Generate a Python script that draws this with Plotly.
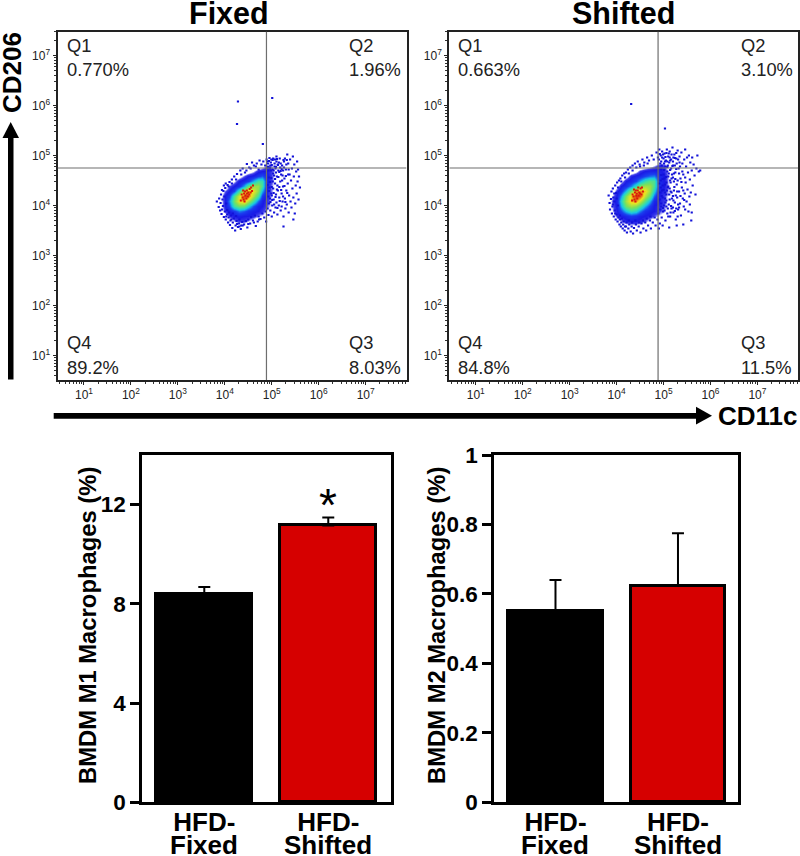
import math
import plotly.graph_objects as go

FONT = "Liberation Sans"
W, H = 800, 856

# ---------- flow cytometry panels (values are log10 of intensity) ----------
decades = [1, 2, 3, 4, 5, 6, 7]
decade_labels = [f"10<sup>{d}</sup>" for d in decades]
panel_titles = ["Fixed", "Shifted"]
quadrant_names = ["Q1", "Q2", "Q4", "Q3"]
fixed_percents = ["0.770%", "1.96%", "89.2%", "8.03%"]
shifted_percents = ["0.663%", "3.10%", "84.8%", "11.5%"]
fixed_gate = (4.887, 4.75)
shifted_gate = (4.883, 4.75)

density_x = [3.8, 3.9, 4.0, 4.1, 4.2, 4.3, 4.4, 4.5, 4.6, 4.7, 4.8, 4.9, 5.0, 5.1, 5.2]
density_y = [3.6, 3.7, 3.8, 3.9, 4.0, 4.1, 4.2, 4.3, 4.4, 4.5, 4.6, 4.7, 4.8, 4.9]
fixed_density = [
    [0, 0, 0, 0, .1, .2, .2, .1, 0, 0, 0, 0, 0, 0, 0],
    [0, 0, 0, .2, .6, .8, .8, .6, .3, .1, 0, 0, 0, 0, 0],
    [0, 0, .3, .8, 1, 1.1, 1, 1, .9, .6, .5, .3, .1, 0, 0],
    [0, .1, .8, 1.1, 1.4, 1.8, 1.6, 1.3, 1.1, 1, .8, .5, .3, 0, 0],
    [0, .3, 1, 1.5, 2.6, 3, 2.9, 2.3, 1.6, 1.1, 1, .7, .4, .1, 0],
    [0, .3, 1, 1.8, 3, 4, 4.3, 3.5, 2.6, 1.7, 1.1, .8, .5, .1, 0],
    [0, .3, 1, 1.4, 2.7, 3.8, 4.8, 4.7, 3.5, 2.6, 1.4, .9, .5, .2, 0],
    [0, .1, .7, 1, 1.5, 2.6, 3.6, 4.3, 4, 3.2, 2, 1, .6, .2, 0],
    [0, 0, .1, .7, 1, 1.3, 2, 2.9, 3.3, 3.3, 2.6, 1, .6, .3, 0],
    [0, 0, 0, .1, .5, 1, 1.2, 1.4, 2, 2.6, 2.5, 1.1, .7, .3, 0],
    [0, 0, 0, 0, 0, .3, .7, 1, 1.1, 1.4, 1.6, 1.1, .7, .3, 0],
    [0, 0, 0, 0, 0, 0, 0, .2, .5, .9, 1, 1, .7, .3, 0],
    [0, 0, 0, 0, 0, 0, 0, 0, 0, 0, .3, .8, .6, .1, 0],
    [0, 0, 0, 0, 0, 0, 0, 0, 0, 0, 0, 0, 0, 0, 0],
]
shifted_density = [
    [0, 0, 0, .1, .3, .4, .4, .3, .1, 0, 0, 0, 0, 0, 0],
    [0, 0, .2, .6, .9, 1, 1, .9, .7, .4, .2, 0, 0, 0, 0],
    [0, .2, .8, 1, 1.2, 1.4, 1.3, 1.1, 1, .9, .7, .5, .3, .1, 0],
    [0, .5, 1, 1.5, 2.1, 2.5, 2.3, 1.8, 1.3, 1.1, 1, .8, .6, .3, 0],
    [0, .6, 1.1, 2, 3, 3.4, 3.2, 2.7, 2, 1.4, 1, .9, .7, .4, .1],
    [0, .7, 1.2, 2.3, 3.4, 4.2, 4.4, 3.7, 2.8, 2, 1.2, 1, .8, .4, .2],
    [0, .5, 1.1, 1.9, 3.1, 4.1, 4.9, 4.8, 3.6, 2.8, 1.7, 1, .8, .5, .2],
    [0, .2, .9, 1.3, 2.1, 3.1, 3.8, 4.4, 4.1, 3.3, 2.3, 1.1, .9, .6, .2],
    [0, 0, .4, 1, 1.3, 1.8, 2.5, 3.1, 3.4, 3.3, 2.7, 1.3, 1, .6, .2],
    [0, 0, 0, .4, 1, 1.2, 1.5, 2, 2.5, 2.8, 2.7, 1.3, 1, .6, .1],
    [0, 0, 0, 0, .3, .9, 1.1, 1.2, 1.5, 1.7, 1.8, 1.2, 1, .6, .1],
    [0, 0, 0, 0, 0, .1, .4, .8, 1, 1.1, 1.1, 1.1, .9, .5, 0],
    [0, 0, 0, 0, 0, 0, 0, 0, .2, .4, .6, .9, .8, .4, 0],
    [0, 0, 0, 0, 0, 0, 0, 0, 0, 0, 0, .2, .4, .2, 0],
]

fixed_dots = [
    (4.28, 6.08), (4.26, 5.63), (5.01, 6.15), (4.81, 5.23),
    (3.83, 4.08), (3.87, 3.97), (3.88, 4.14), (3.90, 3.90), (3.91, 4.05), (3.92, 4.22), (3.93, 3.83), (3.95, 4.12),
    (3.96, 3.99), (3.97, 4.29), (3.98, 3.77), (3.99, 4.18), (4.00, 3.88), (4.01, 4.35), (4.02, 3.72), (4.03, 4.04),
    (4.05, 3.82), (4.06, 4.41), (4.07, 3.66), (4.08, 3.76), (4.10, 4.47), (4.11, 3.61), (4.12, 3.70), (4.13, 3.80),
    (4.15, 4.52), (4.16, 3.55), (4.17, 3.66), (4.19, 3.74), (4.20, 4.58), (4.22, 3.50), (4.23, 3.60), (4.25, 3.69),
    (4.26, 4.63), (4.28, 3.57), (4.30, 3.64), (4.31, 3.72), (4.33, 4.70), (4.34, 3.53), (4.35, 3.60), (4.37, 3.67),
    (4.38, 4.74), (4.41, 3.62), (4.43, 4.66), (4.45, 3.69), (4.47, 4.83), (4.48, 3.56), (4.50, 3.72), (4.52, 4.76),
    (4.54, 3.64), (4.56, 3.77), (4.58, 4.86), (4.60, 3.70), (4.62, 4.80), (4.64, 3.80), (4.66, 3.59), (4.68, 4.84),
    (4.70, 3.68), (4.72, 3.78), (4.74, 4.90), (4.76, 3.73), (4.78, 4.82), (4.80, 3.84), (4.82, 4.88), (4.84, 3.76),
    (4.86, 4.80), (4.87, 3.88), (4.88, 3.68), (4.89, 4.92), (4.91, 3.94), (4.92, 4.84), (4.93, 3.81), (4.94, 4.04),
    (4.95, 4.95), (4.96, 4.14), (4.97, 3.90), (4.98, 4.86), (4.99, 4.24), (5.00, 3.78), (5.01, 4.00), (5.02, 4.91),
    (5.03, 4.34), (5.04, 4.12), (5.05, 3.86), (5.06, 4.78), (5.07, 4.44), (5.08, 3.96), (5.09, 4.22), (5.10, 4.88),
    (5.10, 4.06), (5.11, 4.58), (5.12, 3.82), (5.13, 4.30), (5.14, 4.70), (5.15, 4.00), (5.16, 4.16), (5.17, 4.94),
    (5.18, 4.48), (5.19, 3.90), (5.20, 4.62), (5.21, 4.24), (5.22, 4.80), (5.23, 4.08), (5.24, 4.38), (5.25, 3.78),
    (5.26, 4.88), (5.27, 4.54), (5.28, 4.14), (5.29, 3.94), (5.30, 4.72), (5.31, 4.30), (5.32, 4.02), (5.33, 5.02),
    (5.34, 4.44), (5.35, 4.84), (5.36, 3.86), (5.37, 4.20), (5.38, 4.62), (5.39, 4.92), (5.40, 4.08), (5.41, 4.50),
    (5.42, 3.96), (5.43, 4.74), (5.44, 4.34), (5.45, 4.98), (5.46, 4.16), (5.47, 4.58), (5.48, 4.82), (5.49, 3.84),
    (5.50, 4.04), (5.51, 4.40), (5.52, 4.68), (5.53, 4.24), (5.54, 4.88), (5.55, 4.48), (5.56, 4.72), (5.57, 4.12),
    (5.58, 4.58), (5.60, 4.36), (5.46, 3.72), (5.25, 3.58), (5.10, 4.98), (5.28, 4.94), (5.36, 4.72), (5.18, 4.76),
    (4.98, 4.70), (5.05, 4.60), (4.94, 4.56), (5.02, 4.48), (4.95, 4.36), (5.00, 4.20), (5.12, 4.40), (5.22, 4.50),
    (5.08, 4.74), (5.15, 4.86), (5.24, 4.70), (5.31, 4.82), (4.93, 4.70), (4.97, 4.80), (5.02, 4.72), (5.06, 4.84),
    (4.15, 4.44), (4.08, 4.38), (4.24, 4.52), (4.35, 4.62), (4.46, 4.70), (4.55, 4.74), (4.66, 4.78), (4.72, 4.72),
    (3.94, 3.92), (4.03, 3.78), (4.14, 3.72), (4.26, 3.63), (4.38, 3.60), (4.50, 3.63), (4.62, 3.66), (4.73, 3.72),
    (4.91, 4.41), (4.93, 4.18), (4.94, 4.29), (4.96, 4.47), (4.97, 4.07), (4.99, 4.55), (5.00, 4.37), (5.01, 4.11),
    (5.03, 4.64), (5.04, 4.25), (5.05, 4.02), (5.07, 4.53), (5.08, 4.17), (5.09, 4.66), (5.11, 4.32), (5.12, 3.95),
    (5.13, 4.81), (5.14, 4.57), (5.16, 4.37), (5.17, 4.09), (5.19, 4.69), (5.20, 4.31), (5.21, 3.98), (5.23, 4.60),
    (5.24, 4.18), (5.26, 4.76), (5.27, 4.39), (5.29, 4.07), (5.30, 4.59), (5.32, 4.91), (5.33, 4.25), (5.35, 4.62),
    (4.90, 4.88), (4.92, 4.77), (4.94, 4.89), (4.96, 4.75), (4.99, 4.92), (5.00, 4.81), (5.03, 4.94), (5.04, 4.70),
    (5.07, 4.92), (5.09, 4.77), (5.11, 4.93), (5.13, 4.82), (5.16, 4.67), (5.19, 4.84), (5.21, 4.73), (5.25, 4.91),
    (3.94, 4.31), (3.98, 4.40), (4.02, 4.44), (4.05, 3.91), (4.09, 3.86), (4.17, 3.84), (4.24, 3.79), (4.31, 3.58),
]
fixed_core = [
    (4.38, 4.16), (4.41, 4.24), (4.44, 4.20), (4.47, 4.30), (4.40, 4.12), (4.50, 4.26), (4.53, 4.33), (4.46, 4.14),
    (4.56, 4.36), (4.36, 4.22), (4.43, 4.28), (4.49, 4.18), (4.52, 4.22), (4.58, 4.29), (4.34, 4.10), (4.60, 4.40),
    (4.42, 4.08), (4.47, 4.24), (4.39, 4.30), (4.55, 4.26),
]
shifted_dots = [
    (4.31, 6.03), (5.03, 5.54),
    (3.83, 4.20), (3.85, 4.05), (3.86, 3.92), (3.88, 4.13), (3.89, 4.28), (3.90, 3.84), (3.91, 3.98), (3.92, 4.34),
    (3.93, 4.16), (3.94, 3.78), (3.95, 4.08), (3.96, 3.90), (3.97, 4.40), (3.98, 3.72), (3.99, 4.25), (4.00, 3.82),
    (4.01, 4.46), (4.02, 3.68), (4.03, 4.00), (4.04, 3.76), (4.05, 4.50), (4.06, 3.62), (4.07, 3.72), (4.08, 4.54),
    (4.09, 3.58), (4.10, 3.66), (4.12, 4.60), (4.13, 3.54), (4.14, 3.62), (4.16, 4.64), (4.17, 3.50), (4.18, 3.58),
    (4.20, 4.66), (4.21, 3.66), (4.22, 3.46), (4.24, 4.72), (4.25, 3.54), (4.27, 3.62), (4.29, 4.76), (4.30, 3.48),
    (4.32, 3.58), (4.34, 4.80), (4.35, 3.44), (4.37, 3.55), (4.39, 4.84), (4.41, 3.62), (4.43, 3.50), (4.45, 4.88),
    (4.47, 3.58), (4.49, 4.82), (4.51, 3.46), (4.53, 3.64), (4.55, 4.92), (4.57, 3.54), (4.59, 4.86), (4.61, 3.66),
    (4.63, 3.50), (4.65, 4.96), (4.67, 3.60), (4.69, 4.90), (4.71, 3.70), (4.73, 3.54), (4.75, 5.00), (4.77, 3.66),
    (4.79, 4.92), (4.81, 3.76), (4.83, 3.60), (4.85, 5.06), (4.87, 3.72), (4.88, 4.96), (4.89, 3.84), (4.91, 5.12),
    (4.92, 3.64), (4.93, 3.92), (4.94, 5.00), (4.95, 4.04), (4.96, 3.76), (4.97, 5.08), (4.98, 4.16), (4.99, 3.88),
    (5.00, 4.94), (5.01, 4.00), (5.02, 5.04), (5.03, 4.26), (5.04, 3.70), (5.05, 4.90), (5.06, 4.10), (5.07, 5.12),
    (5.08, 3.84), (5.09, 4.36), (5.10, 4.98), (5.11, 4.02), (5.12, 4.22), (5.13, 5.08), (5.14, 3.78), (5.15, 4.46),
    (5.16, 4.92), (5.17, 3.94), (5.18, 4.14), (5.19, 5.16), (5.20, 4.56), (5.21, 3.86), (5.22, 4.30), (5.23, 5.02),
    (5.24, 4.06), (5.25, 4.66), (5.26, 3.72), (5.27, 4.94), (5.28, 4.42), (5.29, 4.16), (5.30, 5.10), (5.31, 3.92),
    (5.32, 4.74), (5.33, 4.28), (5.34, 4.98), (5.35, 4.04), (5.36, 4.54), (5.37, 3.80), (5.38, 5.06), (5.39, 4.36),
    (5.40, 4.84), (5.41, 4.14), (5.42, 4.62), (5.43, 3.98), (5.44, 4.92), (5.45, 4.24), (5.46, 5.12), (5.47, 4.46),
    (5.48, 4.78), (5.49, 4.08), (5.50, 4.96), (5.51, 4.32), (5.52, 4.66), (5.53, 3.88), (5.54, 5.00), (5.55, 4.18),
    (5.56, 4.52), (5.57, 4.86), (5.58, 4.26), (5.59, 3.70), (5.60, 4.70), (5.61, 4.96), (5.62, 4.40), (5.64, 4.82),
    (5.66, 4.60), (5.68, 4.22), (5.70, 4.74), (5.72, 5.00), (5.75, 4.68), (5.78, 4.70), (5.56, 4.02), (5.42, 3.62),
    (5.28, 3.60), (5.12, 3.56), (4.98, 3.60), (4.90, 3.54), (5.60, 3.86), (5.30, 3.78), (5.46, 3.92),
    (4.95, 4.72), (5.00, 4.62), (5.04, 4.78), (5.08, 4.68), (5.12, 4.86), (5.16, 4.74), (5.20, 4.88), (5.24, 4.80),
    (4.94, 4.50), (4.98, 4.40), (5.02, 4.54), (5.06, 4.46), (5.10, 4.58), (5.14, 4.50), (5.18, 4.62), (5.22, 4.48),
    (4.93, 4.84), (4.97, 4.96), (5.03, 4.88), (5.09, 4.80), (5.13, 4.96), (5.21, 4.96), (5.28, 4.84), (5.34, 4.86),
    (4.93, 4.26), (4.97, 4.30), (5.03, 4.14), (5.07, 4.30), (5.13, 4.34), (5.17, 4.26), (5.21, 4.10), (5.26, 4.20),
    (4.95, 3.98), (5.02, 3.90), (5.06, 3.98), (5.10, 3.78), (5.15, 3.86), (5.20, 3.96), (5.27, 3.94), (5.33, 3.96),
    (3.92, 4.02), (3.95, 4.24), (3.97, 3.84), (4.00, 4.14), (4.03, 4.36), (4.07, 3.80), (4.11, 3.74), (4.15, 3.68),
    (4.20, 3.58), (4.26, 3.70), (4.33, 3.66), (4.40, 3.70), (4.48, 3.66), (4.56, 3.70), (4.64, 3.74), (4.72, 3.78),
    (4.10, 4.48), (4.18, 4.56), (4.26, 4.64), (4.34, 4.70), (4.42, 4.76), (4.50, 4.78), (4.58, 4.80), (4.66, 4.84),
    (4.91, 4.44), (4.92, 4.12), (4.94, 4.36), (4.95, 4.61), (4.96, 4.19), (4.98, 4.53), (4.99, 3.95), (5.00, 4.31),
    (5.01, 4.71), (5.03, 4.42), (5.04, 4.06), (5.05, 4.57), (5.06, 4.22), (5.08, 4.77), (5.09, 3.94), (5.10, 4.38),
    (5.11, 4.64), (5.13, 4.12), (5.14, 4.71), (5.15, 4.28), (5.16, 3.99), (5.17, 4.54), (5.19, 4.79), (5.20, 4.19),
    (5.22, 4.64), (5.23, 4.37), (5.24, 3.89), (5.25, 4.53), (5.27, 4.73), (5.29, 4.28), (5.30, 4.50), (5.31, 4.02),
    (5.33, 4.64), (5.35, 4.78), (5.36, 4.19), (5.38, 4.47), (5.40, 4.68), (5.42, 4.30), (5.44, 4.11), (5.46, 4.56),
    (4.90, 4.92), (4.92, 5.03), (4.95, 4.88), (4.96, 4.80), (4.99, 5.02), (5.01, 4.84), (5.04, 4.97), (5.06, 5.05),
    (5.08, 4.88), (5.11, 5.04), (5.14, 4.90), (5.17, 5.02), (5.20, 4.80), (5.24, 4.95), (5.27, 5.05), (5.31, 4.92),
]
shifted_core = [
    (4.36, 4.18), (4.39, 4.26), (4.42, 4.20), (4.45, 4.30), (4.38, 4.12), (4.48, 4.26), (4.51, 4.34), (4.44, 4.14),
    (4.54, 4.36), (4.34, 4.22), (4.41, 4.30), (4.47, 4.20), (4.50, 4.24), (4.56, 4.28), (4.33, 4.10), (4.43, 4.24),
    (4.40, 4.08), (4.46, 4.36), (4.37, 4.32), (4.53, 4.22),
]
density_colors = [[0, "rgba(30,30,235,0)"], [0.1, "rgba(30,30,235,0)"], [0.15, "rgba(26,26,230,0.85)"], [0.2, "#1a1ae6"],
                  [0.3, "#1a40f0"], [0.42, "#18c4e8"], [0.52, "#40e0a0"], [0.62, "#7ce05a"], [0.8, "#f0e41e"], [1, "#e0200f"]]

# ---------- bar panels ----------
groups = ["HFD-Fixed", "HFD-Shifted"]
group_first_line = ["HFD-", "HFD-"]
group_second_line = ["Fixed", "Shifted"]
m1_values = [8.38, 11.16]
m1_errors = [0.30, 0.32]
m2_values = [0.55, 0.624]
m2_errors = [0.09, 0.151]
bar_colors = ["#000000", "#d60000"]
m1_ticks = [0, 4, 8, 12]
m2_ticks = [0, 0.2, 0.4, 0.6, 0.8, 1]
m2_tick_labels = ["0", "0.2", "0.4", "0.6", "0.8", "1"]

fig = go.Figure()


def dom_x(a, b):
    return [a / W, b / W]


def dom_y(top, bottom):
    return [1 - bottom / H, 1 - top / H]


minor_vals = [d + math.log10(k) for d in range(0, 8) for k in range(2, 10)]
minor_vals = [v for v in minor_vals if 0.44 < v < 7.87]
flow_frames = [(57.5, 406.5), (449.3, 798.3)]
flow_data = [
    (fixed_density, fixed_dots, fixed_core, fixed_gate, fixed_percents),
    (shifted_density, shifted_dots, shifted_core, shifted_gate, shifted_percents),
]
shapes = []
annotations = []


def note(px, py, text, size, bold=False, color="#000", anchor="left", angle=0):
    annotations.append(dict(
        xref="paper", yref="paper", x=px / W, y=1 - py / H, text=f"<b>{text}</b>" if bold else text,
        showarrow=False, xanchor=anchor, yanchor="middle", textangle=angle,
        font=dict(family=FONT, size=size, color=color),
    ))


for i, (frame, data) in enumerate(zip(flow_frames, flow_data)):
    n = i + 1
    suffix = "" if n == 1 else str(n)
    dens, dots, core, gate, pct = data
    fig.add_trace(go.Heatmap(x=density_x, y=density_y, z=dens, zmin=0, zmax=5, zsmooth="best",
                             colorscale=density_colors, showscale=False, hoverinfo="skip",
                             xaxis=f"x{suffix}", yaxis=f"y{suffix}"))
    fig.add_trace(go.Scatter(x=[p[0] for p in dots], y=[p[1] for p in dots], mode="markers",
                             marker=dict(size=2.2, color="#1212d8", symbol="square"), hoverinfo="skip",
                             xaxis=f"x{suffix}", yaxis=f"y{suffix}"))
    fig.add_trace(go.Scatter(x=[p[0] for p in core], y=[p[1] for p in core], mode="markers",
                             marker=dict(size=2, color="#d81a0a", symbol="square"), hoverinfo="skip",
                             xaxis=f"x{suffix}", yaxis=f"y{suffix}"))
    tick_font = dict(family=FONT, size=12, color="#222")
    fig.layout[f"xaxis{suffix}"] = dict(
        domain=dom_x(*frame), range=[0.436, 7.87], tickmode="array", tickvals=decades, ticktext=decade_labels,
        ticks="outside", ticklen=3, tickwidth=1, tickcolor="#222", tickfont=tick_font, showgrid=False, zeroline=False,
        showline=True, linecolor="#222", linewidth=2, mirror=True, anchor=f"y{suffix}",
        minor=dict(tickmode="array", tickvals=minor_vals, ticks="outside", ticklen=2, tickwidth=1, tickcolor="#333", showgrid=False),
    )
    fig.layout[f"yaxis{suffix}"] = dict(
        domain=dom_y(31.5, 380), range=[0.51, 7.48], tickmode="array", tickvals=decades, ticktext=decade_labels,
        ticks="outside", ticklen=3, tickwidth=1, tickcolor="#222", tickfont=tick_font, showgrid=False, zeroline=False,
        showline=True, linecolor="#222", linewidth=2, mirror=True, anchor=f"x{suffix}",
        minor=dict(tickmode="array", tickvals=minor_vals, ticks="outside", ticklen=2, tickwidth=1, tickcolor="#333", showgrid=False),
    )
    shapes.append(dict(type="line", xref=f"x{suffix}", yref=f"y{suffix}", x0=gate[0], x1=gate[0], y0=0.51, y1=7.48,
                       line=dict(color="#6e6e6e", width=1.2)))
    shapes.append(dict(type="line", xref=f"x{suffix}", yref=f"y{suffix}", x0=0.436, x1=7.87, y0=gate[1], y1=gate[1],
                       line=dict(color="#6e6e6e", width=1.2)))
    left = frame[0]
    positions = [(left + 7, 45, 70), (left + 289.5, 45, 70), (left + 7, 342, 367), (left + 289.5, 342, 367)]
    for (px, y1, y2), q, p in zip(positions, quadrant_names, pct):
        note(px, y1, q, 18.3, color="#222")
        note(px, y2, p, 18.3, color="#222")
    note((frame[0] + frame[1]) / 2 - 3 + (3 if i else 0), 12.5, panel_titles[i], 30.5, bold=True, anchor="center")

bar_frames = [(142, 391, 3, [-0.5024, 1.506]), (494, 738, 4, [-0.502, 1.49])]
bar_data = [
    (m1_values, m1_errors, [0, 14], m1_ticks, [str(t) for t in m1_ticks], "BMDM M1 Macrophages (%)", 87),
    (m2_values, m2_errors, [0, 1], m2_ticks, m2_tick_labels, "BMDM M2 Macrophages (%)", 436),
]
for (left, right, n, xr), (vals, errs, yr, tv, tt, title, title_x) in zip(bar_frames, bar_data):
    fig.add_trace(go.Bar(x=[0, 1], y=vals, width=0.775, marker=dict(color=bar_colors, line=dict(color="#000", width=3)),
                         error_y=dict(type="data", symmetric=False, array=errs, arrayminus=[0, 0], color="#000", thickness=2, width=6),
                         xaxis=f"x{n}", yaxis=f"y{n}", hoverinfo="skip"))
    fig.layout[f"xaxis{n}"] = dict(
        domain=dom_x(left, right), range=xr, tickmode="array", tickvals=[0, 1], ticktext=group_first_line,
        ticks="", showgrid=False, zeroline=False, showline=True, linecolor="#000", linewidth=2.5, mirror=True,
        ticklabelstandoff=-5,
        tickfont=dict(family=FONT, size=26, color="#000", weight="bold"), anchor=f"y{n}",
    )
    fig.layout[f"yaxis{n}"] = dict(
        domain=dom_y(455, 802.3), range=yr, tickmode="array", tickvals=tv, ticktext=tt,
        ticks="outside", ticklen=9, tickwidth=2.5, tickcolor="#000", showgrid=False, zeroline=False,
        showline=True, linecolor="#000", linewidth=2.5, mirror=True, ticklabelstandoff=0,
        tickfont=dict(family=FONT, size=22.5, color="#000", weight="bold"), anchor=f"x{n}",
    )
    for xv, line2 in zip([0, 1], group_second_line):
        annotations.append(dict(xref=f"x{n}", yref="paper", x=xv, y=1 - 845 / H, text=f"<b>{line2}</b>", showarrow=False,
                                xanchor="center", yanchor="middle", font=dict(family=FONT, size=26, color="#000")))
    note(title_x, 626, title, 23.8, bold=True, anchor="center", angle=-90)

annotations.append(dict(xref="x3", yref="paper", x=1, y=1 - 505 / H, text="*", showarrow=False, xanchor="center",
                        yanchor="middle", font=dict(family=FONT, size=46, color="#000")))

# axis arrows
note(12, 73, "CD206", 26, bold=True, anchor="center", angle=-90)
note(758, 416, "CD11c", 26, bold=True, anchor="center")
ink = dict(color="#000", width=0)
for x0, y0, x1, y1 in [(8, 134, 13.5, 379.5), (53.7, 413, 699, 418.7)]:
    shapes.append(dict(type="rect", xref="paper", yref="paper", x0=x0 / W, x1=x1 / W, y0=1 - y0 / H, y1=1 - y1 / H,
                       fillcolor="#000", line=ink))
for pts in [((10.7, 122), (2.5, 138), (19, 138)), ((712, 415.7), (696, 406.7), (696, 424.5))]:
    path = "M " + " L ".join(f"{px / W} {1 - py / H}" for px, py in pts) + " Z"
    shapes.append(dict(type="path", xref="paper", yref="paper", path=path, fillcolor="#000", line=ink))

fig.update_layout(width=W, height=H, margin=dict(l=0, r=0, t=0, b=0, autoexpand=False), showlegend=False, paper_bgcolor="white",
                  plot_bgcolor="white", shapes=shapes, annotations=annotations, bargap=0)
fig.write_html("out.html", config={"displayModeBar": False}, post_script="document.body.style.margin='0';")
